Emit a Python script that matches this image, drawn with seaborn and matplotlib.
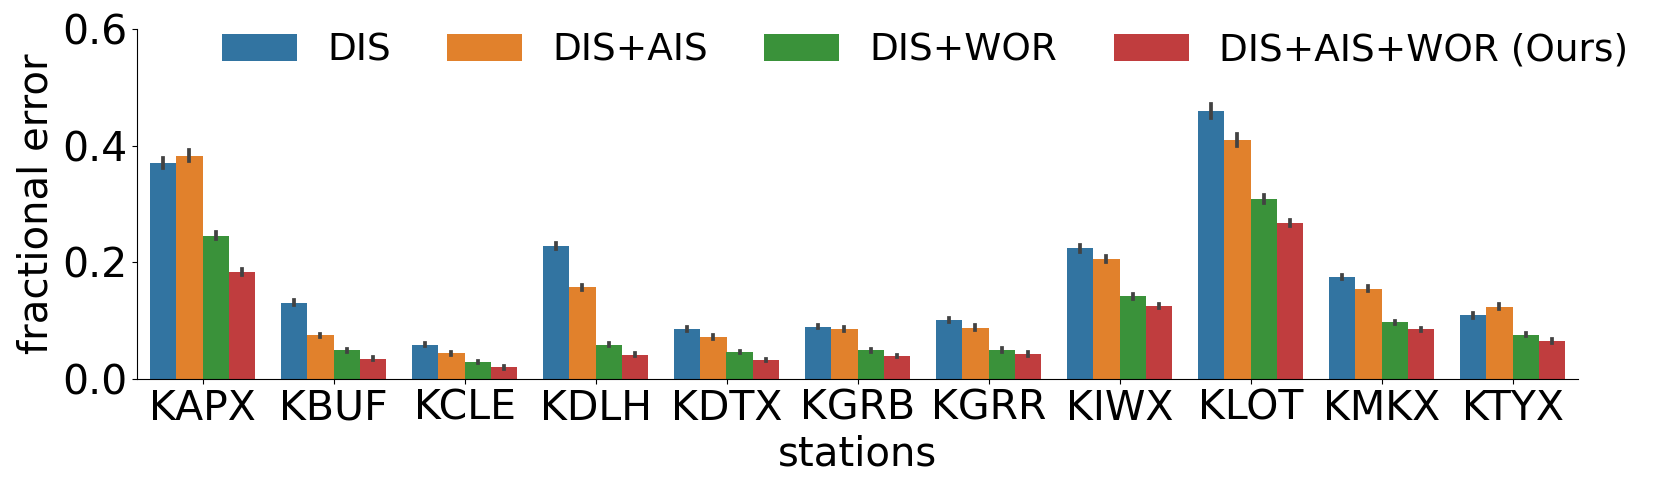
import pandas as pd
import matplotlib
matplotlib.use("Agg")
import matplotlib.pyplot as plt
import seaborn as sns

stations = ["KAPX", "KBUF", "KCLE", "KDLH", "KDTX", "KGRB", "KGRR", "KIWX", "KLOT", "KMKX", "KTYX"]
methods = ["DIS", "DIS+AIS", "DIS+WOR", "DIS+AIS+WOR (Ours)"]

# mean fractional error per station
dis = [0.370, 0.131, 0.059, 0.228, 0.086, 0.090, 0.101, 0.224, 0.459, 0.175, 0.109]
dis_ais = [0.383, 0.075, 0.044, 0.157, 0.072, 0.086, 0.088, 0.206, 0.410, 0.155, 0.124]
dis_wor = [0.246, 0.049, 0.029, 0.059, 0.046, 0.049, 0.050, 0.142, 0.308, 0.097, 0.076]
ours = [0.183, 0.035, 0.020, 0.042, 0.033, 0.039, 0.043, 0.125, 0.267, 0.085, 0.065]

# half-width of the error bars
dis_err = [0.009, 0.004, 0.003, 0.005, 0.003, 0.003, 0.003, 0.006, 0.012, 0.004, 0.004]
dis_ais_err = [0.009, 0.003, 0.003, 0.004, 0.003, 0.003, 0.004, 0.005, 0.010, 0.004, 0.004]
dis_wor_err = [0.006, 0.003, 0.002, 0.003, 0.002, 0.003, 0.003, 0.004, 0.007, 0.003, 0.003]
ours_err = [0.005, 0.002, 0.002, 0.002, 0.002, 0.002, 0.003, 0.003, 0.005, 0.003, 0.003]

means = [dis, dis_ais, dis_wor, ours]
errs = [dis_err, dis_ais_err, dis_wor_err, ours_err]

rows = []
for method, m_list, e_list in zip(methods, means, errs):
    for st, m, e in zip(stations, m_list, e_list):
        rows.append({"stations": st, "method": method, "fractional error": m - e})
        rows.append({"stations": st, "method": method, "fractional error": m + e})
df = pd.DataFrame(rows)

fig = plt.figure(figsize=(16.6, 4.92), dpi=100)
ax = fig.add_axes([137 / 1660, 1 - 379 / 492, 1441 / 1660, 350 / 492])

sns.barplot(data=df, x="stations", y="fractional error", hue="method",
            hue_order=methods, order=stations, ax=ax, palette="tab10",
            errorbar=lambda v: (v.min(), v.max()), err_kws={"linewidth": 2.7})

ax.set_ylim(0, 0.6)
ax.set_yticks([0.0, 0.2, 0.4, 0.6])
ax.tick_params(axis="both", labelsize=29.5)
ax.set_xlabel("stations", fontsize=29)
ax.set_ylabel("fractional error", fontsize=29)
sns.despine(ax=ax)

handles, labels = ax.get_legend_handles_labels()
ax.get_legend().remove()
fig.legend(handles, labels, loc="center", bbox_to_anchor=(925 / 1660, 1 - 50.5 / 492),
           ncol=4, frameon=False, fontsize=27, columnspacing=1.5)

fig.savefig("out.png", dpi=100)
